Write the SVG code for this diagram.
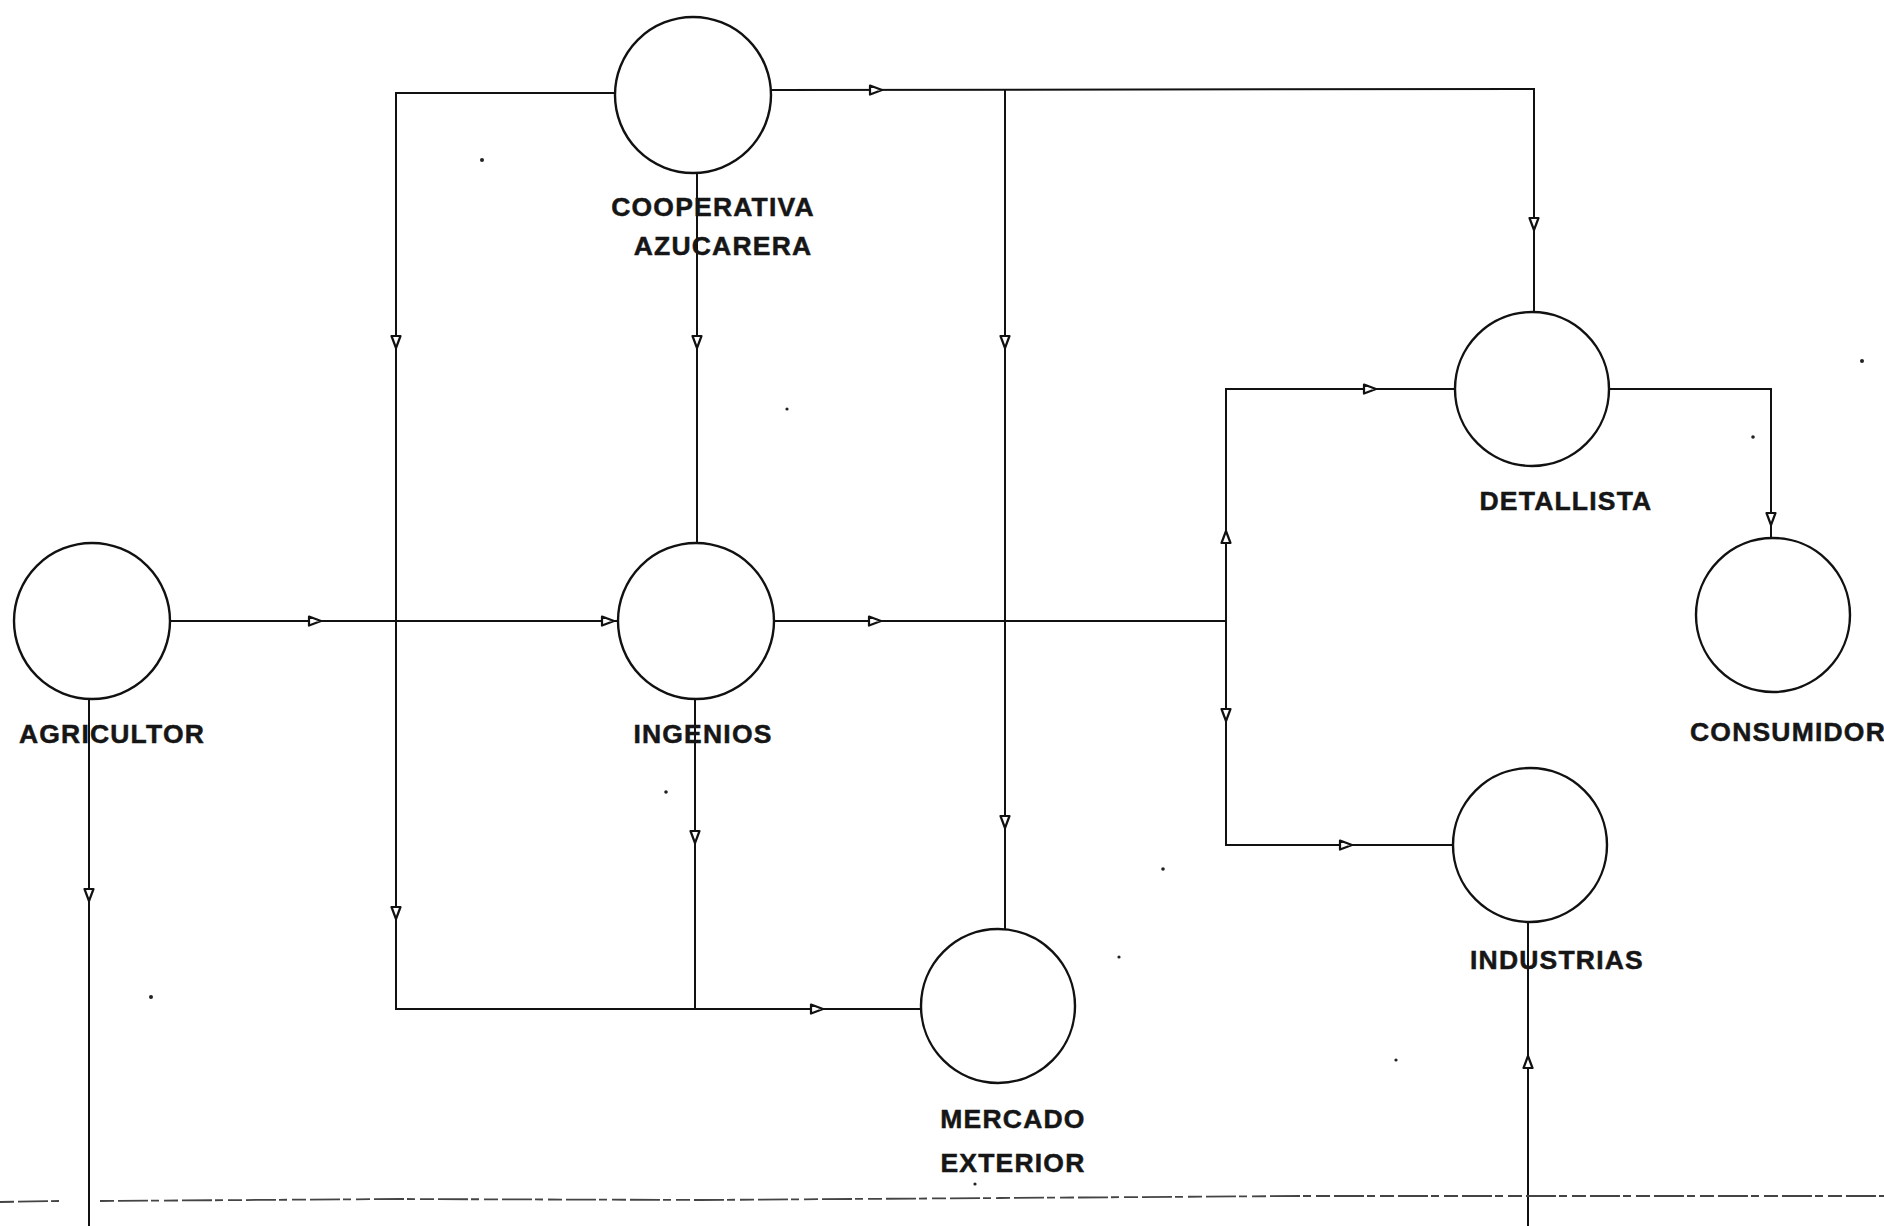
<svg xmlns="http://www.w3.org/2000/svg" xmlns:xlink="http://www.w3.org/1999/xlink" width="1884" height="1226" viewBox="0 0 1884 1226">
<style>
.node{fill:#fff;stroke:#111;stroke-width:2.4}
.ln{fill:none;stroke:#111;stroke-width:2}
.lbl{font-family:"Liberation Sans",Arial,sans-serif;font-weight:bold;font-size:26.5px;fill:#161616;stroke:#161616;stroke-width:0.5;text-anchor:middle;letter-spacing:1.2px}
.ah{fill:#fff;stroke:#111;stroke-width:2.2;stroke-linejoin:round}
.noise{fill:none;stroke:#444;stroke-width:1.8;stroke-dasharray:14 4 30 3 8 5}
.dot{fill:#222}
</style>
<defs>
<path id="arr" d="M-6,-4.5 L6,0 L-6,4.5 Z"/>
</defs>
<rect width="1884" height="1226" fill="#fff"/>
<g id="connectors">
<polyline class="ln" points="615,93 396,93 396,1009 921,1009"/>
<polyline class="ln" points="771,90 1534,89 1534,312"/>
<line class="ln" x1="1005" y1="90" x2="1005" y2="929"/>
<line class="ln" x1="697" y1="174" x2="697" y2="543"/>
<line class="ln" x1="171" y1="621" x2="618" y2="621"/>
<line class="ln" x1="774" y1="621" x2="1226" y2="621"/>
<polyline class="ln" points="1454,389 1226,389 1226,845 1453,845"/>
<polyline class="ln" points="1610,389 1771,389 1771,537"/>
<line class="ln" x1="695" y1="699" x2="695" y2="1009"/>
<line class="ln" x1="89" y1="699" x2="89" y2="1226"/>
<line class="ln" x1="1528" y1="923" x2="1528" y2="1226"/>
<use xlink:href="#arr" class="ah" transform="translate(876,90)"/>
<use xlink:href="#arr" class="ah" transform="translate(315,621)"/>
<use xlink:href="#arr" class="ah" transform="translate(608,621)"/>
<use xlink:href="#arr" class="ah" transform="translate(875,621)"/>
<use xlink:href="#arr" class="ah" transform="translate(817,1009)"/>
<use xlink:href="#arr" class="ah" transform="translate(1370,389)"/>
<use xlink:href="#arr" class="ah" transform="translate(1346,845)"/>
<use xlink:href="#arr" class="ah" transform="translate(396,342) rotate(90)"/>
<use xlink:href="#arr" class="ah" transform="translate(396,913) rotate(90)"/>
<use xlink:href="#arr" class="ah" transform="translate(697,342) rotate(90)"/>
<use xlink:href="#arr" class="ah" transform="translate(695,837) rotate(90)"/>
<use xlink:href="#arr" class="ah" transform="translate(1005,342) rotate(90)"/>
<use xlink:href="#arr" class="ah" transform="translate(1005,822) rotate(90)"/>
<use xlink:href="#arr" class="ah" transform="translate(1534,224) rotate(90)"/>
<use xlink:href="#arr" class="ah" transform="translate(1771,519) rotate(90)"/>
<use xlink:href="#arr" class="ah" transform="translate(89,895) rotate(90)"/>
<use xlink:href="#arr" class="ah" transform="translate(1226,537) rotate(-90)"/>
<use xlink:href="#arr" class="ah" transform="translate(1226,715) rotate(90)"/>
<use xlink:href="#arr" class="ah" transform="translate(1528,1062) rotate(-90)"/>
</g>
<g id="cooperativa">
<circle class="node" cx="693" cy="95" r="78"/>
<text class="lbl" x="713" y="216">COOPERATIVA</text>
<text class="lbl" x="723" y="255">AZUCARERA</text>
</g>
<g id="agricultor">
<circle class="node" cx="92" cy="621" r="78"/>
<text class="lbl" x="112" y="743">AGRICULTOR</text>
</g>
<g id="ingenios">
<circle class="node" cx="696" cy="621" r="78"/>
<text class="lbl" x="703" y="743">INGENIOS</text>
</g>
<g id="mercado">
<circle class="node" cx="998" cy="1006" r="77"/>
<text class="lbl" x="1013" y="1128">MERCADO</text>
<text class="lbl" x="1013" y="1172">EXTERIOR</text>
</g>
<g id="detallista">
<circle class="node" cx="1532" cy="389" r="77"/>
<text class="lbl" x="1566" y="510">DETALLISTA</text>
</g>
<g id="consumidor">
<circle class="node" cx="1773" cy="615" r="77"/>
<text class="lbl" x="1788" y="741">CONSUMIDOR</text>
</g>
<g id="industrias">
<circle class="node" cx="1530" cy="845" r="77"/>
<text class="lbl" x="1557" y="969">INDUSTRIAS</text>
</g>
<g id="scan-marks">
<path class="noise" d="M0,1202 L60,1201 M100,1201 L400,1199 L700,1200 L1000,1198 L1300,1196 L1884,1196"/>
<circle class="dot" cx="482" cy="160" r="2"/>
<circle class="dot" cx="787" cy="409" r="1.6"/>
<circle class="dot" cx="666" cy="792" r="1.8"/>
<circle class="dot" cx="151" cy="997" r="2"/>
<circle class="dot" cx="1163" cy="869" r="1.8"/>
<circle class="dot" cx="1119" cy="957" r="1.6"/>
<circle class="dot" cx="1396" cy="1060" r="1.6"/>
<circle class="dot" cx="1753" cy="437" r="1.8"/>
<circle class="dot" cx="1862" cy="361" r="2"/>
<circle class="dot" cx="975" cy="1184" r="1.6"/>
</g>
</svg>
